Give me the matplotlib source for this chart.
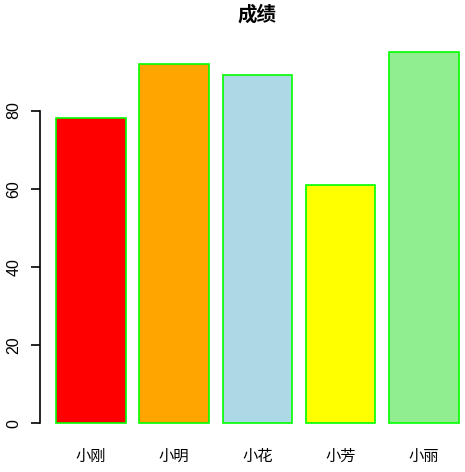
import matplotlib
matplotlib.use("Agg")
import matplotlib.pyplot as plt

plt.rcParams['font.family'] = ['Noto Sans CJK SC', 'DejaVu Sans']

# scores per student
names = ["小刚", "小明", "小花", "小芳", "小丽"]
scores = [78, 92, 89, 61, 95]
colors = ["red", "orange", "lightblue", "yellow", "lightgreen"]
yticks = [0, 20, 40, 60, 80]

W, H = 465, 472
fig = plt.figure(figsize=(W / 100, H / 100), dpi=100)

# R-style barplot geometry: width 1, space 0.2, 4% axis padding
x = [0.2 + 1.2 * i + 0.5 for i in range(len(scores))]
left_px, right_px, top_px, bottom_px = 40, 474.8, 37, 438.2
ax = fig.add_axes([left_px / W, 1 - bottom_px / H,
                   (right_px - left_px) / W, (bottom_px - top_px) / H])

ax.bar(x, scores, width=1.0, color=colors, edgecolor="#00ff00", linewidth=1.2)

xmin, xmax = 0.2, 0.2 + 1.2 * (len(scores) - 1) + 1.0
pad = 0.04 * (xmax - xmin)
ax.set_xlim(xmin - pad, xmax + pad)
ymax = max(scores)
ax.set_ylim(-0.04 * ymax, ymax * 1.04)

for s in ["top", "right", "bottom"]:
    ax.spines[s].set_visible(False)
ax.spines["left"].set_bounds(yticks[0], yticks[-1])
ax.spines["left"].set_linewidth(1.2)

ax.set_yticks(yticks)
ax.set_yticklabels([str(v) for v in yticks], rotation=90, va="center",
                   family="Liberation Sans", fontsize=11.5)
ax.tick_params(axis="y", length=6.5, width=1.2, pad=7)

ax.set_xticks(x)
ax.set_xticklabels(names, fontsize=11)
ax.tick_params(axis="x", length=0, pad=7)

ax.set_title("成绩", fontsize=14, fontweight="bold", pad=12)

fig.savefig("out.png", dpi=100)
